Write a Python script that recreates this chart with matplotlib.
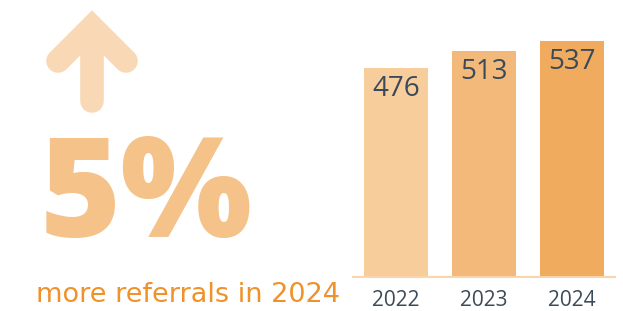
import matplotlib
matplotlib.use('Agg')
import matplotlib.pyplot as plt

years = ['2022', '2023', '2024']
referrals = [476, 513, 537]
bar_colors = ['#F7CD9C', '#F3B97A', '#F0AB5E']
headline = '5%'
caption = 'more referrals in 2024'

W, H = 623, 311
fig = plt.figure(figsize=(W / 100, H / 100), dpi=100)

# bar panel on the right
ax = fig.add_axes([353 / W, (H - 277) / H, (615 - 353) / W, 264 / H])
x = range(len(years))
bars = ax.bar(x, referrals, width=0.73, color=bar_colors)
ax.set_xlim(-0.49, 2.49)
ax.set_ylim(0, 600)
for b, v in zip(bars, referrals):
    ax.annotate(str(v), (b.get_x() + b.get_width() / 2, v), xytext=(0, -5),
                textcoords='offset points', ha='center', va='top',
                fontsize=20, color='#3B4A5A', family='Open Sans')
ax.set_xticks(list(x))
ax.set_xticklabels(years, fontsize=15, color='#3B4A5A', family='Open Sans')
ax.tick_params(axis='x', length=0, pad=9)
ax.set_yticks([])
for s in ['top', 'right', 'left']:
    ax.spines[s].set_visible(False)
ax.spines['bottom'].set_color('#F8D5AD')
ax.spines['bottom'].set_linewidth(1.5)

# overlay in pixel coordinates for the decoration on the left
ov = fig.add_axes([0, 0, 1, 1])
ov.set_xlim(0, W)
ov.set_ylim(H, 0)
ov.axis('off')
arrow_kw = dict(color='#F9D9B5', lw=17, solid_capstyle='round',
                solid_joinstyle='miter')
ov.plot([58, 92, 126], [61, 27, 61], **arrow_kw)
ov.plot([92, 92], [28, 101], **arrow_kw)

ov.text(146, 201, headline, ha='center', va='center', fontsize=100,
        fontweight=800, color='#F5C28A', family='Open Sans')
ov.text(188, 295, caption, ha='center', va='center', fontsize=19.5,
        color='#F0922B', family='DejaVu Sans')

fig.savefig('out.png', dpi=100)
